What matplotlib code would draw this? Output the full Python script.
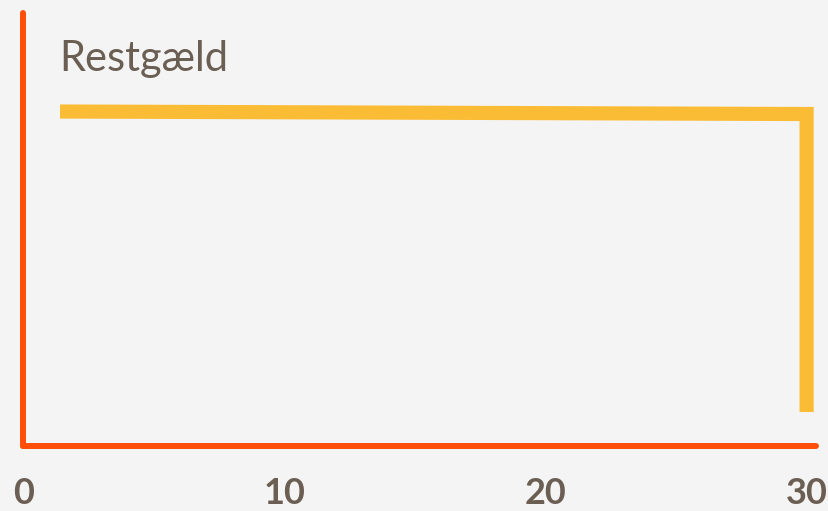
import matplotlib
matplotlib.use("Agg")
import matplotlib.pyplot as plt

# Data
years = [1.4, 30.0, 30.0]
restgaeld = [1000000, 992500, 101600]
xticks = [0, 10, 20, 30]
title = "Restgæld"

W, H = 829, 511
fig = plt.figure(figsize=(W / 100, H / 100), dpi=100)
fig.patch.set_facecolor("#f4f4f4")
ax = fig.add_axes([23.5 / W, (H - 446) / H, (816 - 23.5) / W, (446 - 13) / H])
ax.set_facecolor("#f4f4f4")

ax.plot(years, restgaeld, color="#fbbc35", lw=10.2, solid_capstyle="butt",
        solid_joinstyle="miter")

ax.set_xlim(0, 30.36)
ax.set_ylim(0, 1294500)

for s in ["top", "right"]:
    ax.spines[s].set_visible(False)
for s in ["left", "bottom"]:
    ax.spines[s].set_color("#ff4e0a")
    ax.spines[s].set_linewidth(4.3)
    ax.spines[s].set_capstyle("round")

ax.set_yticks([])
ax.set_xticks(xticks)
ax.set_xticklabels([str(t) for t in xticks], fontsize=26, fontweight="bold",
                   color="#6b5e53", family="Lato")
ax.tick_params(axis="x", length=0, pad=22)

ax.text(59 / W, (H - 71) / H, title, transform=fig.transFigure, fontsize=30,
        color="#6b5e53", family="Lato", ha="left", va="baseline")

fig.savefig("out.png", dpi=100, facecolor=fig.get_facecolor())
